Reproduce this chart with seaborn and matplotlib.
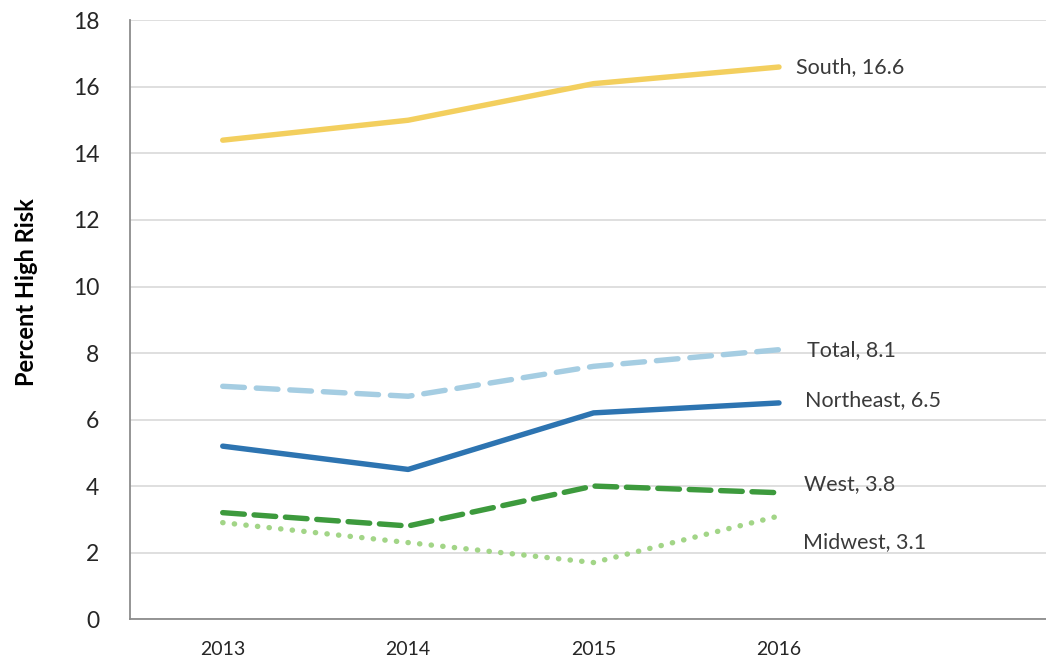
import numpy as np
import pandas as pd
import matplotlib
matplotlib.use("Agg")
import matplotlib.pyplot as plt
import seaborn as sns

# data
years = ["2013", "2014", "2015", "2016"]
south = [14.4, 15.0, 16.1, 16.6]
total = [7.0, 6.7, 7.6, 8.1]
northeast = [5.2, 4.5, 6.2, 6.5]
west = [3.2, 2.8, 4.0, 3.8]
midwest = [2.9, 2.3, 1.7, 3.1]

series = {
    "South": south,
    "Total": total,
    "Northeast": northeast,
    "West": west,
    "Midwest": midwest,
}
colors = {
    "South": "#F3CF5E",
    "Total": "#A5CDE2",
    "Northeast": "#2D74B1",
    "West": "#3D9A3D",
    "Midwest": "#A2D587",
}
dashes = {
    "South": None,
    "Total": (4, 2.2),
    "Northeast": None,
    "West": (4, 1.8),
    "Midwest": (0.05, 2.1),
}
# label offsets (points) from the last point
offsets = {
    "South": (12, 0),
    "Total": (20, 0),
    "Northeast": (19, 2),
    "West": (18, 6),
    "Midwest": (17, -19),
}

sns.set_style("white")
plt.rcParams["font.family"] = ["Lato", "DejaVu Sans"]

fig = plt.figure(figsize=(10.46, 6.6), dpi=100)
ax = fig.add_axes([0.1243, 0.062, 0.8757, 0.907])

x = np.arange(len(years))
for name, vals in series.items():
    df = pd.DataFrame({"x": x, "y": vals})
    sns.lineplot(data=df, x="x", y="y", ax=ax, color=colors[name],
                 linewidth=3.9, legend=False)
    line = ax.get_lines()[-1]
    line.set_solid_capstyle("round")
    if dashes[name] is not None:
        line.set_dashes(dashes[name])
        line.set_dash_capstyle("round")
    ax.annotate(f"{name}, {vals[-1]}", xy=(x[-1], vals[-1]),
                xytext=offsets[name], textcoords="offset points",
                va="center", ha="left", fontsize=15.5, color="#3A3A3A")

ax.set_xlim(-0.5, 4.44)
ax.set_ylim(0, 18)
ax.set_yticks(range(0, 19, 2))
ax.set_xticks(x)
ax.set_xticklabels(years)
ax.tick_params(axis="y", labelsize=16.5, colors="#262626", length=0, pad=22)
ax.tick_params(axis="x", labelsize=14, colors="#262626", length=0, pad=16)
ax.yaxis.grid(True, color="#D9D9D9", linewidth=1.2)
ax.set_axisbelow(True)
for s in ["top", "right"]:
    ax.spines[s].set_visible(False)
for s in ["left", "bottom"]:
    ax.spines[s].set_color("#8C8C8C")
    ax.spines[s].set_linewidth(1.3)
ax.set_xlabel("")
ax.set_ylabel("Percent High Risk", fontsize=17, fontweight="bold",
              color="#000000")
ax.yaxis.set_label_coords(-0.101, 0.547)

fig.savefig("out.png", dpi=100)
